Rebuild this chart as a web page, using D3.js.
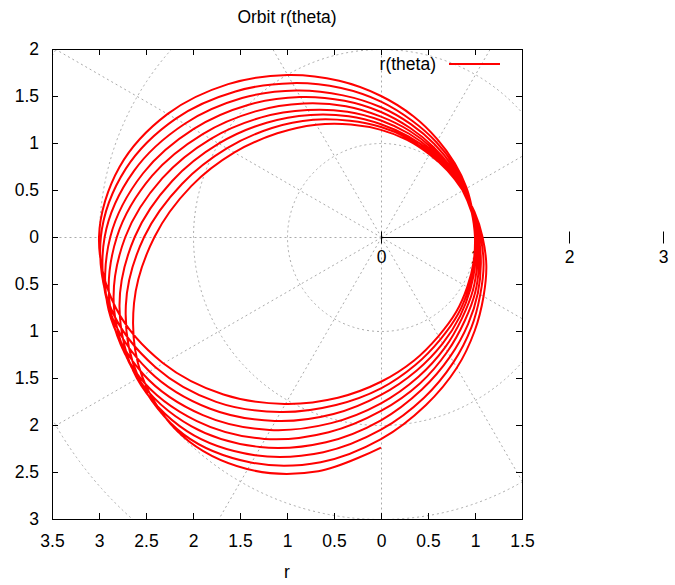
<!DOCTYPE html>
<html>
<head>
<meta charset="utf-8">
<script src="https://cdn.jsdelivr.net/npm/d3@7"></script>
<style>
  body { margin: 0; background: #fff; }
  svg text { font-family: "Liberation Sans", Arial, sans-serif; font-size: 17.5px; fill: #000; }
</style>
</head>
<body>
<div id="chart"></div>
<script>
// angles (degrees) sampled inside each turn of the orbit
const loopAngles = [0, 15, 30, 45, 60, 75, 90, 105, 120, 135, 150, 165,
                    180, 195, 210, 225, 240, 255, 270, 285, 300, 315, 330, 345];

// r, one array per turn
const loop1 = [1.00, 1.01, 1.05, 1.11, 1.20, 1.33, 1.50, 1.72, 1.99, 2.30, 2.62, 2.88, 3.00, 2.92, 2.68, 2.37, 2.05, 1.77, 1.54, 1.36, 1.22, 1.13, 1.06, 1.02];
const loop2 = [1.00, 1.01, 1.03, 1.09, 1.17, 1.28, 1.44, 1.64, 1.89, 2.19, 2.52, 2.81, 2.98, 2.97, 2.77, 2.48, 2.15, 1.85, 1.61, 1.41, 1.26, 1.16, 1.08, 1.03];
const loop3 = [1.00, 1.00, 1.02, 1.07, 1.14, 1.24, 1.38, 1.56, 1.80, 2.09, 2.41, 2.72, 2.94, 2.99, 2.85, 2.58, 2.26, 1.95, 1.68, 1.47, 1.31, 1.19, 1.10, 1.04];
const loop4 = [1.01, 1.00, 1.01, 1.05, 1.11, 1.20, 1.33, 1.50, 1.72, 1.99, 2.30, 2.62, 2.88, 3.00, 2.92, 2.68, 2.37, 2.05, 1.77, 1.54, 1.36, 1.22, 1.13, 1.06];
const loop5 = [1.02, 1.00, 1.01, 1.03, 1.09, 1.17, 1.28, 1.44, 1.64, 1.89, 2.19, 2.52, 2.81, 2.98, 2.97, 2.77, 2.48, 2.15, 1.85, 1.61, 1.41, 1.26, 1.16, 1.08];
const loop6 = [1.03, 1.00, 1.00, 1.02, 1.07, 1.14, 1.24, 1.38, 1.56, 1.80, 2.09, 2.41, 2.72, 2.94, 2.99, 2.85, 2.58, 2.26, 1.95, 1.68, 1.47, 1.31, 1.19, 1.10];
const loop7 = [1.04, 1.01, 1.00, 1.01, 1.05, 1.11, 1.20, 1.33, 1.50, 1.72, 1.99, 2.30, 2.62, 2.88, 3.00, 2.92, 2.68, 2.37, 2.05, 1.77, 1.54, 1.36, 1.22, 1.13];
const loop8 = [1.06, 1.02, 1.00, 1.01, 1.03, 1.09, 1.17, 1.28, 1.44, 1.64, 1.89, 2.19, 2.52, 2.81, 2.98, 2.97, 2.77, 2.48, 2.15, 1.85, 1.61, 1.41, 1.26, 1.16];
const loop9 = [1.08, 1.03, 1.00, 1.00, 1.02, 1.07, 1.14, 1.24, 1.38, 1.56, 1.80, 2.09, 2.41, 2.72, 2.94, 2.99, 2.85, 2.58, 2.24];
const orbitLoops = [loop1, loop2, loop3, loop4, loop5, loop6, loop7, loop8, loop9];

const xTicks = [-3.5, -3, -2.5, -2, -1.5, -1, -0.5, 0, 0.5, 1, 1.5];
const yTicks = [-3, -2.5, -2, -1.5, -1, -0.5, 0, 0.5, 1, 1.5, 2];
const rTicks = [0, 1, 2, 3];
const gridRadii = [1, 2, 3, 4];
const gridAngles = [0, 30, 60, 90, 120, 150, 180, 210, 240, 270, 300, 330];

const width = 675, height = 585;

const svg = d3.select("#chart").append("svg")
    .attr("width", width)
    .attr("height", height);

const x = d3.scaleLinear().domain([-3.5, 1.5]).range([52, 522]);
const y = d3.scaleLinear().domain([-3, 2]).range([519, 49]);

svg.append("defs").append("clipPath").attr("id", "plot-clip")
    .append("rect")
    .attr("x", x(-3.5)).attr("y", y(2))
    .attr("width", x(1.5) - x(-3.5)).attr("height", y(-3) - y(2));

// --- polar grid ---
const grid = svg.append("g")
    .attr("clip-path", "url(#plot-clip)")
    .append("g")
    .attr("transform", "translate(0.5,0.5)")
    .attr("fill", "none")
    .attr("stroke", "#aaaaaa")
    .attr("stroke-width", 1)
    .attr("stroke-dasharray", "2,3");

grid.selectAll("circle")
    .data(gridRadii)
    .join("circle")
    .attr("cx", x(0))
    .attr("cy", y(0))
    .attr("r", d => x(d) - x(0));

grid.selectAll("line")
    .data(gridAngles)
    .join("line")
    .attr("x1", x(0))
    .attr("y1", y(0))
    .attr("x2", d => x(6 * Math.cos(d * Math.PI / 180)))
    .attr("y2", d => y(6 * Math.sin(d * Math.PI / 180)));

// --- r axis ---
const raxis = svg.append("g").attr("transform", "translate(0.5,0.5)");
raxis.append("line")
    .attr("x1", x(0)).attr("x2", x(1.5))
    .attr("y1", y(0)).attr("y2", y(0))
    .attr("stroke", "#000");

raxis.selectAll("line.rtick")
    .data(rTicks)
    .join("line")
    .attr("class", "rtick")
    .attr("x1", d => x(d)).attr("x2", d => x(d))
    .attr("y1", y(0) - 6).attr("y2", y(0) + 6)
    .attr("stroke", "#000");

svg.selectAll("text.rlabel")
    .data(rTicks)
    .join("text")
    .attr("class", "rlabel")
    .attr("x", d => x(d) + 0.5)
    .attr("y", y(0) + 26)
    .attr("text-anchor", "middle")
    .text(d => d);

// --- orbit ---
const points = orbitLoops.flatMap((rs, k) =>
    rs.map((r, i) => ({ theta: (k * 360 + loopAngles[i]) * Math.PI / 180, r })));

const line = d3.line()
    .x(d => x(d.r * Math.cos(d.theta)))
    .y(d => y(d.r * Math.sin(d.theta)))
    .curve(d3.curveCatmullRom.alpha(0.5));

svg.append("path")
    .datum(points)
    .attr("clip-path", "url(#plot-clip)")
    .attr("fill", "none")
    .attr("stroke", "#ff0000")
    .attr("stroke-width", 2)
    .attr("stroke-linejoin", "round")
    .attr("d", line);

// --- frame and ticks ---
const fmt = d => Math.abs(d);

const gBottom = svg.append("g")
    .attr("transform", `translate(0,${y(-3)})`)
    .call(d3.axisBottom(x).tickValues(xTicks).tickSizeInner(-6).tickSizeOuter(0).tickPadding(16).tickFormat(fmt));
gBottom.select(".domain").remove();

const gLeft = svg.append("g")
    .attr("transform", `translate(${x(-3.5)},0)`)
    .call(d3.axisLeft(y).tickValues(yTicks).tickSizeInner(-6).tickSizeOuter(0).tickPadding(13).tickFormat(fmt));
gLeft.select(".domain").remove();

const gTop = svg.append("g")
    .attr("transform", `translate(0,${y(2)})`)
    .call(d3.axisTop(x).tickValues(xTicks).tickSizeInner(-6).tickSizeOuter(0).tickFormat(""));
gTop.select(".domain").remove();

const gRight = svg.append("g")
    .attr("transform", `translate(${x(1.5)},0)`)
    .call(d3.axisRight(y).tickValues(yTicks).tickSizeInner(-6).tickSizeOuter(0).tickFormat(""));
gRight.select(".domain").remove();

svg.append("rect")
    .attr("x", x(-3.5) + 0.5).attr("y", y(2) + 0.5)
    .attr("width", x(1.5) - x(-3.5)).attr("height", y(-3) - y(2))
    .attr("fill", "none")
    .attr("stroke", "#000");

// --- legend ---
const legend = svg.append("g").attr("transform", "translate(436, 64)");
legend.append("text")
    .attr("x", 0).attr("y", 6)
    .attr("text-anchor", "end")
    .text("r(theta)");
legend.append("line")
    .attr("x1", 13).attr("x2", 64)
    .attr("y1", 0).attr("y2", 0)
    .attr("stroke", "#ff0000")
    .attr("stroke-width", 2);

// --- titles ---
svg.append("text")
    .attr("x", (x(-3.5) + x(1.5)) / 2)
    .attr("y", 23)
    .attr("text-anchor", "middle")
    .text("Orbit r(theta)");

svg.append("text")
    .attr("x", (x(-3.5) + x(1.5)) / 2)
    .attr("y", 578)
    .attr("text-anchor", "middle")
    .text("r");
</script>
</body>
</html>
